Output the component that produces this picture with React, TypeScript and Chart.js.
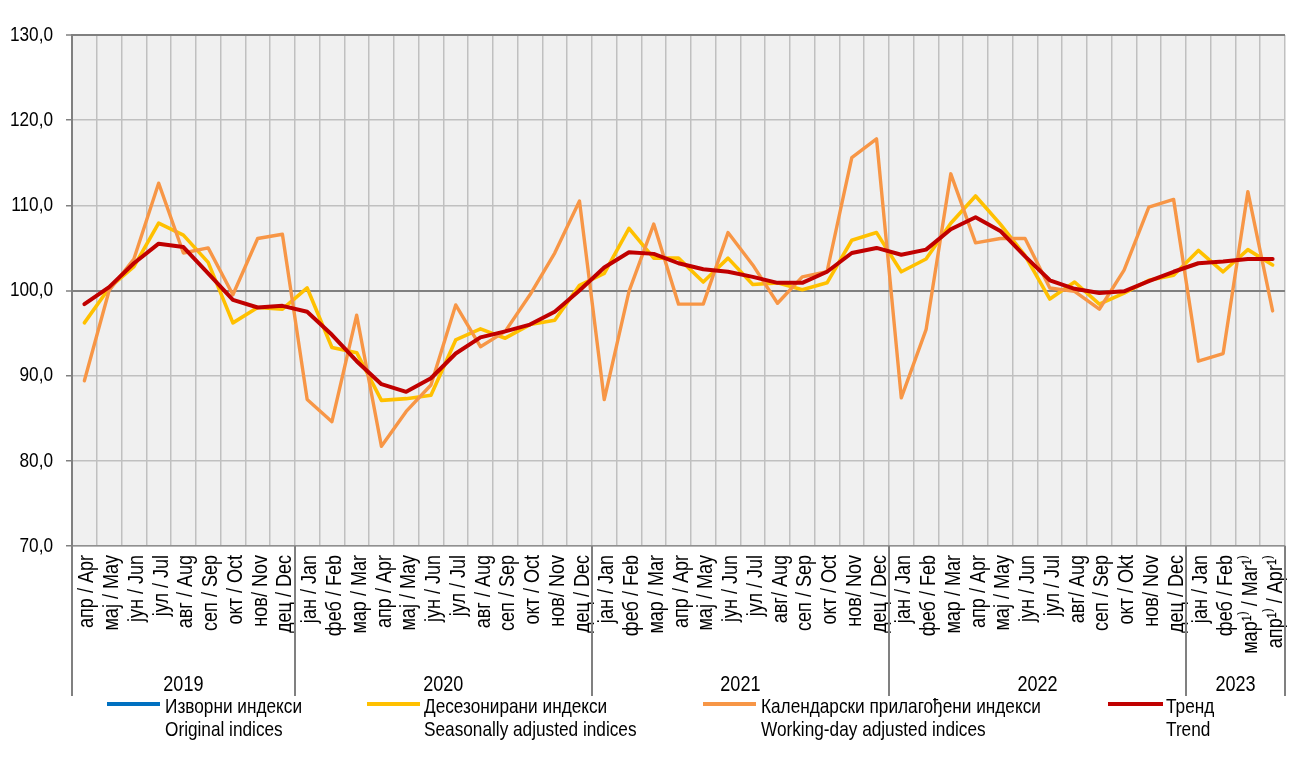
import React, { useEffect, useRef } from "react";
import { Chart, registerables } from "chart.js";

Chart.register(...registerables);

const FONT = '"Liberation Sans", Arial, sans-serif';
const NARROW = 0.82; // Arial Narrow look: horizontal squeeze of Liberation Sans

const categories = [
  "апр / Apr", "мај / May", "јун / Jun", "јул / Jul", "авг / Aug", "сеп / Sep", "окт / Oct", "нов/ Nov", "дец / Dec",
  "јан / Jan", "феб / Feb", "мар / Mar", "апр / Apr", "мај / May", "јун / Jun", "јул / Jul", "авг / Aug", "сеп / Sep", "окт / Oct", "нов/ Nov", "дец / Dec",
  "јан / Jan", "феб / Feb", "мар / Mar", "апр / Apr", "мај / May", "јун / Jun", "јул / Jul", "авг/ Aug", "сеп / Sep", "окт / Oct", "нов/ Nov", "дец / Dec",
  "јан / Jan", "феб / Feb", "мар / Mar", "апр / Apr", "мај / May", "јун / Jun", "јул / Jul", "авг/ Aug", "сеп / Sep", "окт / Okt", "нов/ Nov", "дец / Dec",
  "јан / Jan", "феб / Feb", "мар¹⁾ / Mar¹⁾", "апр¹⁾ / Apr¹⁾",
];

const years = ["2019", "2020", "2021", "2022", "2023"];
const monthsPerYear = [9, 12, 12, 12, 4];

const yTicks = [70, 80, 90, 100, 110, 120, 130];

// Original indices: not visible in the reference (covered by the working-day line)
const originalIndices: (number | null)[] = [];

const seasonallyAdjusted = [
  96.2, 100.3, 102.8, 107.9, 106.5, 103.3, 96.2, 98.0, 97.8,
  100.3, 93.3, 92.7, 87.1, 87.3, 87.7, 94.2, 95.5, 94.4, 96.0, 96.5, 100.6,
  102.0, 107.3, 103.8, 103.8, 101.0, 103.8, 100.7, 100.9, 100.1, 100.9, 105.9, 106.8,
  102.2, 103.7, 107.9, 111.1, 107.8, 104.1, 99.0, 101.0, 98.4, 99.7, 101.2, 101.8,
  104.7, 102.2, 104.8, 103.0,
];

const workingDayAdjusted = [
  89.4, 100.0, 103.7, 112.6, 104.4, 105.0, 99.5, 106.1, 106.6,
  87.2, 84.6, 97.1, 81.7, 85.8, 88.9, 98.3, 93.4, 95.2, 99.5, 104.4, 110.5,
  87.2, 99.9, 107.8, 98.4, 98.4, 106.8, 103.0, 98.5, 101.6, 102.2, 115.6, 117.8,
  87.4, 95.4, 113.7, 105.6, 106.1, 106.1, 100.3, 99.9, 97.8, 102.4, 109.8, 110.7,
  91.7, 92.6, 111.6, 97.6,
];

const trend = [
  98.4, 100.4, 103.2, 105.5, 105.1, 102.0, 98.9, 98.0, 98.2,
  97.5, 94.8, 91.7, 89.0, 88.1, 89.7, 92.6, 94.5, 95.2, 96.0, 97.5, 100.0,
  102.7, 104.5, 104.3, 103.2, 102.5, 102.2, 101.6, 100.9, 100.9, 102.2, 104.4, 105.0,
  104.2, 104.8, 107.2, 108.6, 107.0, 104.0, 101.2, 100.2, 99.7, 99.9, 101.1, 102.2,
  103.2, 103.4, 103.7, 103.7,
];

const legendItems = [
  { color: "#0070C0", sr: "Изворни индекси", en: "Original indices", lineLeft: 107, lineW: 53, textLeft: 165 },
  { color: "#FFC000", sr: "Десезонирани индекси", en: "Seasonally adjusted indices", lineLeft: 367, lineW: 53, textLeft: 424 },
  { color: "#F79646", sr: "Календарски прилагођени индекси", en: "Working-day adjusted indices", lineLeft: 703, lineW: 53, textLeft: 761 },
  { color: "#C00000", sr: "Тренд", en: "Trend", lineLeft: 1108, lineW: 55, textLeft: 1166 },
];

const bgPlugin = {
  id: "plotBg",
  beforeDraw(chart: any) {
    const { ctx, chartArea } = chart;
    ctx.save();
    ctx.fillStyle = "#F0F0F0";
    ctx.fillRect(chartArea.left, chartArea.top, chartArea.right - chartArea.left, chartArea.bottom - chartArea.top);
    ctx.restore();
  },
};

const labelsPlugin = {
  id: "narrowLabels",
  afterDraw(chart: any) {
    const { ctx, chartArea } = chart;
    const xs = chart.scales.x;
    const ys = chart.scales.y;
    const n = categories.length;
    const step = (xs.right - xs.left) / n;
    ctx.save();

    // y tick labels
    ctx.fillStyle = "#000";
    ctx.font = `21px ${FONT}`;
    ctx.textAlign = "right";
    ctx.textBaseline = "middle";
    yTicks.forEach((v) => {
      const y = ys.getPixelForValue(v);
      ctx.save();
      ctx.translate(xs.left - 19, y);
      ctx.scale(NARROW, 1);
      ctx.fillText(v.toFixed(1).replace(".", ","), 0, 0);
      ctx.restore();
    });

    // x month labels (rotated, reading upwards)
    ctx.font = `22px ${FONT}`;
    categories.forEach((lab, i) => {
      const x = xs.getPixelForValue(i);
      ctx.save();
      ctx.translate(x + 3, chartArea.bottom + 9);
      ctx.rotate(-Math.PI / 2);
      ctx.scale(NARROW, 1);
      ctx.textAlign = "right";
      ctx.textBaseline = "middle";
      ctx.fillText(lab, 0, 0);
      ctx.restore();
    });

    // year separators
    ctx.strokeStyle = "#808080";
    ctx.lineWidth = 2;
    let idx = 0;
    const bounds = [0];
    monthsPerYear.forEach((m) => {
      idx += m;
      bounds.push(idx);
    });
    bounds.forEach((b) => {
      const x = Math.round(xs.left + b * step);
      ctx.beginPath();
      ctx.moveTo(x, chartArea.bottom);
      ctx.lineTo(x, chartArea.bottom + 150);
      ctx.stroke();
    });

    // year labels
    ctx.font = `22px ${FONT}`;
    ctx.textAlign = "center";
    ctx.textBaseline = "alphabetic";
    years.forEach((yr, i) => {
      const x0 = xs.left + bounds[i] * step;
      const x1 = xs.left + bounds[i + 1] * step;
      ctx.save();
      ctx.translate((x0 + x1) / 2, chartArea.bottom + 145);
      ctx.scale(NARROW, 1);
      ctx.fillText(yr, 0, 0);
      ctx.restore();
    });
    ctx.restore();
  },
};

export default function App() {
  const ref = useRef<HTMLCanvasElement>(null);

  useEffect(() => {
    document.body.style.margin = "0";
    const canvas = ref.current!;
    const chart = new Chart(canvas, {
      type: "line",
      data: {
        labels: categories,
        datasets: [
          {
            label: "Изворни индекси / Original indices",
            data: originalIndices,
            borderColor: "#0070C0",
            borderWidth: 3.5,
            order: 3,
          },
          {
            label: "Десезонирани индекси / Seasonally adjusted indices",
            data: seasonallyAdjusted,
            borderColor: "#FFC000",
            borderWidth: 3.6,
            order: 2,
          },
          {
            label: "Календарски прилагођени индекси / Working-day adjusted indices",
            data: workingDayAdjusted,
            borderColor: "#F79646",
            borderWidth: 3.4,
            order: 1,
          },
          {
            label: "Тренд / Trend",
            data: trend,
            borderColor: "#C00000",
            borderWidth: 4,
            order: 0,
          },
        ],
      },
      options: {
        responsive: false,
        animation: false,
        devicePixelRatio: 1,
        events: [],
        layout: { padding: { top: 35, right: 8, left: 0, bottom: 0 } },
        elements: {
          point: { radius: 0 },
          line: { tension: 0, borderJoinStyle: "round", borderCapStyle: "round", fill: false },
        },
        plugins: {
          legend: { display: false },
          tooltip: { enabled: false },
        },
        scales: {
          x: {
            type: "category",
            offset: true,
            grid: { offset: true, color: "#C0C0C0", lineWidth: 1.5, drawTicks: false },
            border: { color: "#909090", width: 1.5 },
            ticks: { display: false, autoSkip: false },
            afterFit: (s: any) => {
              s.height = 214;
            },
          },
          y: {
            min: yTicks[0],
            max: yTicks[yTicks.length - 1],
            afterBuildTicks: (s: any) => {
              s.ticks = yTicks.map((v) => ({ value: v }));
            },
            ticks: { display: false },
            grid: {
              color: (c: any) => (c.tick && (c.tick.value === 100 || c.tick.value === 130) ? "#808080" : "#C0C0C0"),
              lineWidth: (c: any) => (c.tick && (c.tick.value === 100 || c.tick.value === 130) ? 2 : 1.5),
              drawTicks: true,
              tickLength: 6,
              tickColor: "#808080",
              tickWidth: 1.5,
            },
            border: { color: "#808080", width: 2 },
            afterFit: (s: any) => {
              s.width = 72;
            },
          },
        },
      },
      plugins: [bgPlugin, labelsPlugin],
    });
    return () => chart.destroy();
  }, []);

  return (
    <div style={{ position: "relative", width: 1293, height: 760, background: "#fff", overflow: "hidden" }}>
      <canvas ref={ref} width={1293} height={760} style={{ display: "block", width: 1293, height: 760 }} />
      {legendItems.map((it) => (
        <React.Fragment key={it.en}>
          <div
            style={{
              position: "absolute",
              left: it.lineLeft,
              top: 702,
              width: it.lineW,
              height: 4,
              background: it.color,
            }}
          />
          <div
            style={{
              position: "absolute",
              left: it.textLeft,
              top: 694,
              fontFamily: FONT,
              fontSize: 21,
              lineHeight: "23.3px",
              color: "#000",
              whiteSpace: "nowrap",
              transform: `scaleX(${NARROW})`,
              transformOrigin: "0 0",
            }}
          >
            <div>{it.sr}</div>
            <div>{it.en}</div>
          </div>
        </React.Fragment>
      ))}
    </div>
  );
}
